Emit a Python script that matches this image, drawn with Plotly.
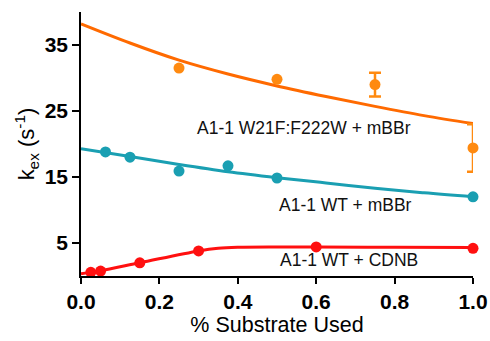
import plotly.graph_objects as go

# Data points
x_w21f = [0.25, 0.5]
y_w21f = [31.5, 29.8]
x_w21f_err = [0.75, 1.0]
y_w21f_err = [29.0, 19.4]
err_w21f = [1.8, 3.6]

x_wt_mbbr = [0.0625, 0.125, 0.25, 0.375, 0.5, 1.0]
y_wt_mbbr = [18.8, 18.0, 15.9, 16.7, 14.85, 12.0]

x_wt_cdnb = [0.025, 0.05, 0.15, 0.3, 0.6, 1.0]
y_wt_cdnb = [0.55, 0.75, 2.0, 3.8, 4.4, 4.2]

# Fitted curves
fit_x_w21f = [0.0, 0.125, 0.25, 0.375, 0.5, 0.625, 0.75, 0.875, 1.0]
fit_y_w21f = [38.2, 35.3, 32.7, 30.6, 28.8, 27.2, 25.7, 24.3, 23.1]

fit_x_wt_mbbr = [0.0, 0.125, 0.25, 0.375, 0.5, 0.625, 0.75, 0.875, 1.0]
fit_y_wt_mbbr = [19.3, 18.1, 16.9, 15.8, 14.9, 14.1, 13.3, 12.6, 12.0]

fit_x_wt_cdnb = [0.0, 0.025, 0.05, 0.15, 0.3, 0.35, 0.4, 0.5, 0.6, 0.8, 1.0]
fit_y_wt_cdnb = [0.35, 0.55, 0.8, 2.0, 3.8, 4.2, 4.35, 4.4, 4.4, 4.35, 4.3]

labels = ["A1-1 W21F:F222W + mBBr", "A1-1 WT + mBBr", "A1-1 WT + CDNB"]
label_x = [0.568, 0.676, 0.684]
label_y = [22.4, 10.8, 2.4]

x_ticks = [0.0, 0.2, 0.4, 0.6, 0.8, 1.0]
y_ticks = [5, 15, 25, 35]

FONT = "Arial, 'Liberation Sans', sans-serif"
orange_line = "#FF6A00"
orange_mark = "#FF8A10"
teal = "#1A9FB2"
red = "#FF1010"

fig = go.Figure()

fig.add_trace(go.Scatter(x=fit_x_w21f, y=fit_y_w21f, mode="lines",
                         line=dict(color=orange_line, width=3, shape="spline"),
                         cliponaxis=False, showlegend=False))
fig.add_trace(go.Scatter(x=x_w21f, y=y_w21f, mode="markers",
                         marker=dict(color=orange_mark, size=11),
                         cliponaxis=False, showlegend=False))
fig.add_trace(go.Scatter(x=x_w21f_err, y=y_w21f_err, mode="markers",
                         marker=dict(color=orange_mark, size=11),
                         error_y=dict(type="data", array=err_w21f, color=orange_mark,
                                      thickness=2.5, width=6),
                         cliponaxis=False, showlegend=False))

fig.add_trace(go.Scatter(x=fit_x_wt_mbbr, y=fit_y_wt_mbbr, mode="lines",
                         line=dict(color=teal, width=3, shape="spline"),
                         cliponaxis=False, showlegend=False))
fig.add_trace(go.Scatter(x=x_wt_mbbr, y=y_wt_mbbr, mode="markers",
                         marker=dict(color=teal, size=11),
                         cliponaxis=False, showlegend=False))

fig.add_trace(go.Scatter(x=fit_x_wt_cdnb, y=fit_y_wt_cdnb, mode="lines",
                         line=dict(color=red, width=3, shape="spline"),
                         cliponaxis=False, showlegend=False))
fig.add_trace(go.Scatter(x=x_wt_cdnb, y=y_wt_cdnb, mode="markers",
                         marker=dict(color=red, size=11),
                         cliponaxis=False, showlegend=False))

for t, lx, ly in zip(labels, label_x, label_y):
    fig.add_annotation(x=lx, y=ly, text=t, showarrow=False,
                       font=dict(family=FONT, size=17.5, color="#111111"))

fig.update_layout(
    width=490, height=341,
    margin=dict(l=81, r=17, t=12, b=65),
    paper_bgcolor="white", plot_bgcolor="white",
    font=dict(family=FONT, color="black"),
    xaxis=dict(range=[0, 1], tickvals=x_ticks, ticktext=["<b>%.1f</b>" % v for v in x_ticks],
               automargin=False,
               showgrid=False, zeroline=False, showline=True, linecolor="black", linewidth=1.5,
               ticks="outside", ticklen=6, tickwidth=1.5, tickcolor="black",
               tickfont=dict(size=21),
               title=dict(text="% Substrate Used", font=dict(size=21.5), standoff=2)),
    yaxis=dict(range=[0, 40], tickvals=y_ticks, ticktext=["<b>%d</b>" % v for v in y_ticks],
               automargin=False,
               showgrid=False, zeroline=False, showline=True, linecolor="black", linewidth=1.5,
               ticks="outside", ticklen=7, tickwidth=1.5, tickcolor="black",
               tickfont=dict(size=21),
               title=dict(text="k<sub>ex</sub> (s<sup>-1</sup>)", font=dict(size=22), standoff=4)),
)

fig.write_html("out.html")
